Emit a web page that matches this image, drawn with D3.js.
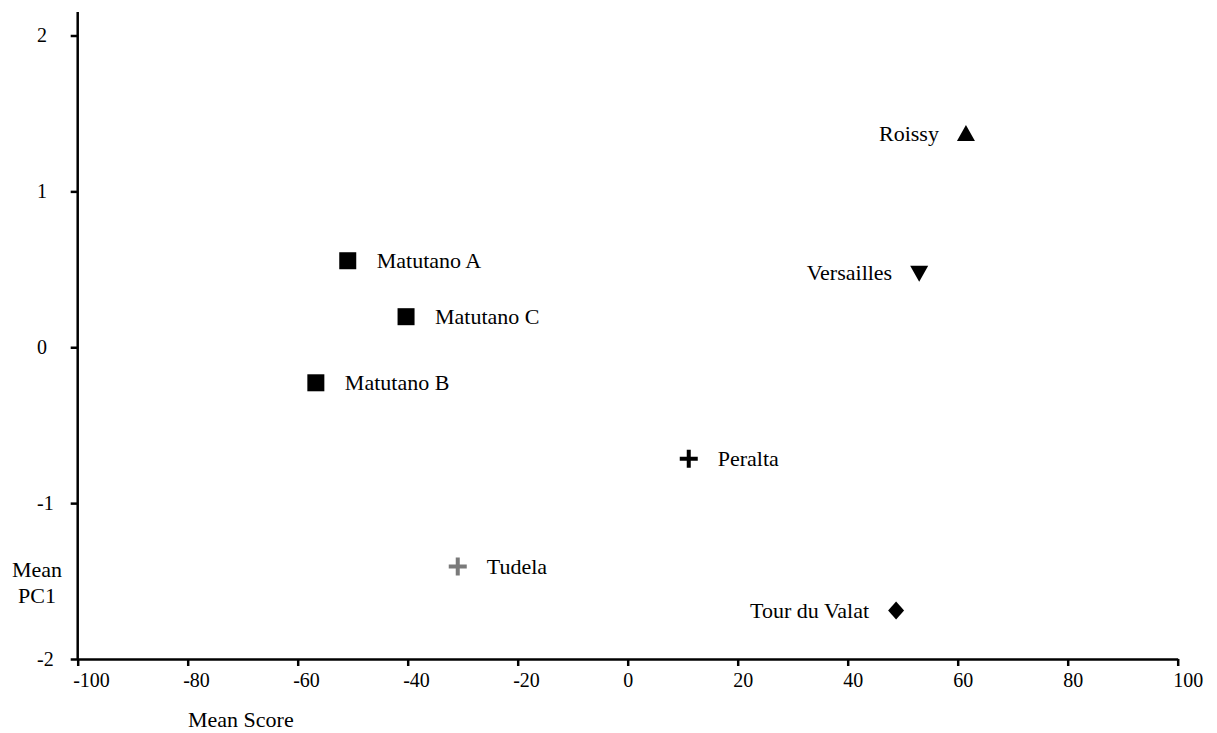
<!DOCTYPE html>
<html>
<head>
<meta charset="utf-8">
<script src="https://cdn.jsdelivr.net/npm/d3@7"></script>
<style>
  body { margin: 0; background: #fff; }
  text { font-family: "Liberation Serif", "Times New Roman", serif; }
</style>
</head>
<body>
<div id="chart"></div>
<script>
// site names, mean score (x) and mean PC1 (y)
const sites = ["Matutano A", "Matutano C", "Matutano B", "Peralta", "Tudela", "Tour du Valat", "Roissy", "Versailles"];
const meanScore = [-50.9, -40.3, -56.7, 11.1, -30.9, 48.8, 61.5, 53.0];
const meanPC1 = [0.555, 0.196, -0.228, -0.715, -1.407, -1.689, 1.368, 0.478];
const shapes = ["square", "square", "square", "cross", "crossGrey", "diamond", "triangle", "triangleDown"];
const labelSide = ["right", "right", "right", "right", "right", "left", "left", "left"];
const xTicks = [-100, -80, -60, -40, -20, 0, 20, 40, 60, 80, 100];
const yTicks = [-2, -1, 0, 1, 2];

const width = 1217, height = 733;
const svg = d3.select("#chart").append("svg")
  .attr("width", width).attr("height", height);

const x = d3.scaleLinear().domain([-100, 100]).range([77.7, 1177.7]);
const y = d3.scaleLinear().domain([-2, 2]).range([659, 35.5]);
const fmt = d => String(d);

// x axis (labels sit left-aligned just before the tick, like the original)
const xAxis = svg.append("g")
  .attr("transform", "translate(0," + y(-2) + ")")
  .call(d3.axisBottom(x).tickValues(xTicks).tickFormat(fmt).tickSize(7).tickPadding(7).tickSizeOuter(0));
xAxis.select(".domain").attr("stroke-width", 2.5);
xAxis.selectAll(".tick line").attr("stroke-width", 2.5);
xAxis.selectAll("text").attr("font-size", 20).attr("fill", "#000")
  .attr("text-anchor", "start").attr("x", -5);

// y axis, goes a bit past 2
svg.append("line")
  .attr("x1", x(-100)).attr("x2", x(-100))
  .attr("y1", 12).attr("y2", y(-2))
  .attr("stroke", "#000").attr("stroke-width", 2.5);
const yAxis = svg.append("g")
  .attr("transform", "translate(" + x(-100) + ",0)")
  .call(d3.axisLeft(y).tickValues(yTicks).tickFormat(fmt).tickSize(7).tickSizeOuter(0));
yAxis.select(".domain").remove();
yAxis.selectAll(".tick line").attr("stroke-width", 2.5);
yAxis.selectAll("text").attr("font-size", 20).attr("fill", "#000")
  .attr("text-anchor", "start").attr("x", 37 - x(-100));

// axis titles
svg.append("text").attr("x", 188).attr("y", 727)
  .attr("font-size", 22).text("Mean Score");
svg.append("text").attr("x", 37).attr("y", 577).attr("text-anchor", "middle")
  .attr("font-size", 22).text("Mean");
svg.append("text").attr("x", 37).attr("y", 603).attr("text-anchor", "middle")
  .attr("font-size", 22).text("PC1");

// markers
const g = svg.append("g");
sites.forEach((name, i) => {
  const cx = x(meanScore[i]), cy = y(meanPC1[i]);
  const s = shapes[i];
  if (s === "square") {
    g.append("rect").attr("x", cx - 8.5).attr("y", cy - 8.5)
      .attr("width", 17).attr("height", 17).attr("fill", "#000");
  } else if (s === "cross" || s === "crossGrey") {
    const c = s === "cross" ? "#000" : "#7a7a7a";
    g.append("path").attr("d", `M${cx - 9},${cy}H${cx + 9}M${cx},${cy - 9}V${cy + 9}`)
      .attr("stroke", c).attr("stroke-width", 4).attr("fill", "none");
  } else if (s === "diamond") {
    g.append("path").attr("d", `M${cx},${cy - 9}L${cx + 8},${cy}L${cx},${cy + 9}L${cx - 8},${cy}Z`)
      .attr("fill", "#000");
  } else if (s === "triangle") {
    g.append("path").attr("d", `M${cx},${cy - 9}L${cx + 9},${cy + 7}L${cx - 9},${cy + 7}Z`)
      .attr("fill", "#000");
  } else if (s === "triangleDown") {
    g.append("path").attr("d", `M${cx - 9},${cy - 7}L${cx + 9},${cy - 7}L${cx},${cy + 9}Z`)
      .attr("fill", "#000");
  }
  const right = labelSide[i] === "right";
  g.append("text")
    .attr("x", right ? cx + 29 : cx - 27)
    .attr("y", cy + 7)
    .attr("text-anchor", right ? "start" : "end")
    .attr("font-size", 22)
    .text(name);
});
</script>
</body>
</html>
